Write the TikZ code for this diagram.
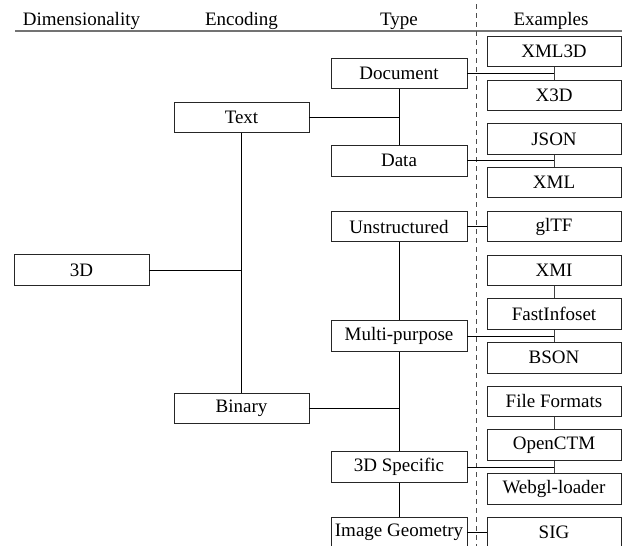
\documentclass[tikz,border=0pt]{standalone}
\usepackage{fontspec}
\setmainfont{Liberation Serif}
\begin{document}
\begin{tikzpicture}[x=1pt,y=-1pt,
  every node/.style={font=\fontsize{19}{22}\selectfont},
  box/.style={draw=black!85,line width=0.9pt,minimum height=30.5pt,inner sep=0pt},
  tbox/.style={box,minimum width=136pt},
  ebox/.style={box,minimum width=134pt},
  lbox/.style={box,minimum width=135pt},
  hdr/.style={anchor=base,inner sep=0pt},
  conn/.style={draw=black,line width=0.9pt},
  econn/.style={draw=black!75,line width=1pt}]
\clip (0,0) rectangle (622,546);
\useasboundingbox (0,0) rectangle (622,546);
% headers
\node[hdr] (hdim) at (81.5,26) {Dimensionality};
\node[hdr] (henc) at (241.5,26) {Encoding};
\node[hdr] (htype) at (399,26) {Type};
\node[hdr] (hex) at (551,26) {Examples};
\coordinate (rl) at (15,31);
\coordinate (rr) at (622,31);
\draw[black!55,line width=1.8pt] (rl) -- (rr);
\coordinate (dt) at (476,4);
\coordinate (db) at (476,546);
\draw[black!70,line width=0.9pt,dash pattern=on 4.5pt off 4.5pt] (dt) -- (db);
% dimensionality
\node[lbox] (d3) at (81.5,270) {3D};
% encoding
\node[lbox] (text) at (241.5,117.5) {Text};
\node[lbox] (binary) at (241.5,408.5) {Binary};
% type
\node[tbox] (doc) at (399,73.5) {Document};
\node[tbox] (data) at (399,160.8) {Data};
\node[tbox] (unstr) at (399,226.5) {Unstructured};
\node[tbox] (multi) at (399,336) {Multi-purpose};
\node[tbox] (spec) at (399,467) {3D Specific};
\node[tbox] (imgeo) at (399,532.5) {Image Geometry};
% examples
\node[ebox] (xml3d) at (554,51.5) {XML3D};
\node[ebox] (x3d) at (554,95.2) {X3D};
\node[ebox] (json) at (554,138.9) {JSON};
\node[ebox] (xml) at (554,182.6) {XML};
\node[ebox] (gltf) at (554,226.5) {glTF};
\node[ebox] (xmi) at (554,270.2) {XMI};
\node[ebox] (fi) at (554,314) {FastInfoset};
\node[ebox] (bson) at (554,357.7) {BSON};
\node[ebox] (ff) at (554,401.4) {File Formats};
\node[ebox] (ctm) at (554,445.1) {OpenCTM};
\node[ebox] (wgl) at (554,488.8) {Webgl-loader};
\node[ebox] (sig) at (554,532.5) {SIG};
% connectors
\draw[conn] (d3.east) -- (d3.east -| text.south);
\draw[conn] (text.south) -- (binary.north);
\draw[conn] (text.east) -- (text.east -| doc.south);
\draw[conn] (binary.east) -- (binary.east -| doc.south);
\draw[conn] (doc.south) -- (data.north);
\draw[conn] (unstr.south) -- (multi.north);
\draw[conn] (multi.south) -- (spec.north);
\draw[conn] (spec.south) -- (imgeo.north);
\draw[conn] (doc.east) -- (doc.east -| xml3d.south);
\draw[econn] (xml3d.south) -- (x3d.north);
\draw[conn] (data.east) -- (data.east -| json.south);
\draw[econn] (json.south) -- (xml.north);
\draw[conn] (unstr.east) -- (gltf.west);
\draw[econn] (xmi.south) -- (fi.north);
\draw[conn] (multi.east) -- (multi.east -| fi.south);
\draw[econn] (fi.south) -- (bson.north);
\draw[econn] (ff.south) -- (ctm.north);
\draw[conn] (spec.east) -- (spec.east -| ctm.south);
\draw[econn] (ctm.south) -- (wgl.north);
\draw[conn] (imgeo.east) -- (sig.west);
\end{tikzpicture}
\end{document}
